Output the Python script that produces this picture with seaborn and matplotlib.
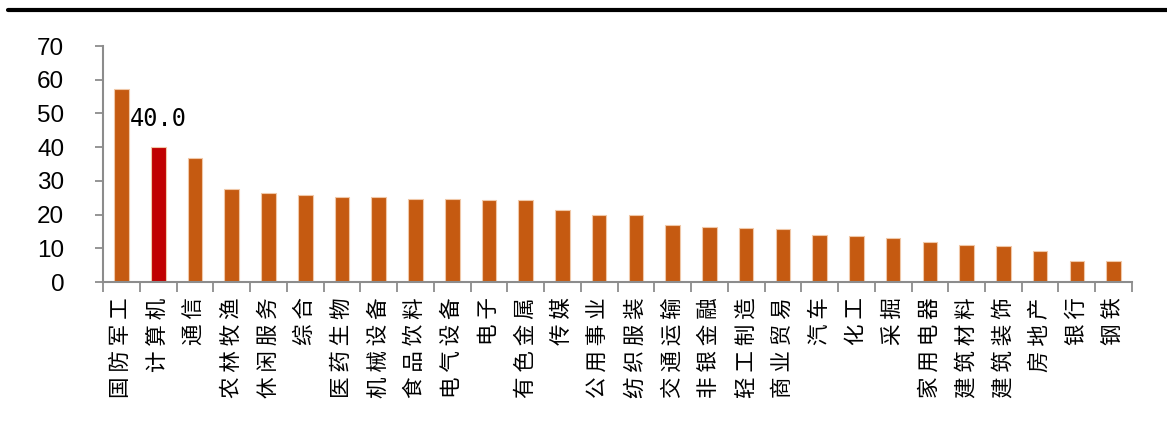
import matplotlib
matplotlib.use("Agg")
import matplotlib.pyplot as plt
import seaborn as sns
from matplotlib.lines import Line2D
from matplotlib.ticker import FixedLocator

categories = ["国防军工", "计算机", "通信", "农林牧渔", "休闲服务", "综合", "医药生物",
              "机械设备", "食品饮料", "电气设备", "电子", "有色金属", "传媒", "公用事业",
              "纺织服装", "交通运输", "非银金融", "轻工制造", "商业贸易", "汽车", "化工",
              "采掘", "家用电器", "建筑材料", "建筑装饰", "房地产", "银行", "钢铁"]
values = [57.3, 40.0, 36.8, 27.5, 26.5, 25.8, 25.2,
          25.2, 24.7, 24.6, 24.3, 24.3, 21.4, 19.9,
          19.8, 16.9, 16.2, 15.9, 15.6, 13.9, 13.7,
          13.1, 11.8, 11.0, 10.6, 9.1, 6.2, 6.2]
highlight = "计算机"
highlight_label = "40.0"
yticks = [0, 10, 20, 30, 40, 50, 60, 70]

sns.set_theme(style="white")
plt.rcParams['font.family'] = ['Noto Sans CJK SC', 'DejaVu Sans']

fig = plt.figure(figsize=(11.67, 4.23), dpi=100)
ax = fig.add_axes([0.0883, 0.3333, 0.8817, 0.5578])

orange = "#C55A11"
red = "#C00000"
palette = [red if c == highlight else orange for c in categories]

sns.barplot(x=categories, y=values, hue=categories, palette=palette, legend=False,
            width=0.4, ax=ax, edgecolor="#F0C8A8", linewidth=0.8, saturation=1)

ax.set_xlim(-0.5, len(categories) - 0.5)
ax.set_ylim(0, 70)
ax.set_yticks(yticks)
ax.set_yticklabels([str(t) for t in yticks], family="Liberation Sans", fontsize=17.5, color="black")
ax.tick_params(axis="y", direction="out", length=6, width=1.3, color="#8C8C8C", pad=22, left=True)

ax.set_xticks(range(len(categories)))
ax.set_xticklabels([" ".join(list(c)) for c in categories], rotation=90, fontsize=15.5, color="black")
ax.tick_params(axis="x", which="major", length=0, pad=11)
ax.xaxis.set_minor_locator(FixedLocator([i - 0.5 for i in range(len(categories) + 1)]))
ax.tick_params(axis="x", which="minor", direction="out", length=7, width=1.3, color="#8C8C8C", bottom=True)

for s in ["top", "right"]:
    ax.spines[s].set_visible(False)
for s in ["left", "bottom"]:
    ax.spines[s].set_visible(True)
    ax.spines[s].set_color("#8C8C8C")
    ax.spines[s].set_linewidth(1.5)
ax.grid(False)
ax.set_xlabel("")
ax.set_ylabel("")

hi = categories.index(highlight)
ax.text(hi, 48.4, highlight_label, ha="center", va="center", fontsize=17,
        family="DejaVu Sans Mono", color="black")

fig.add_artist(Line2D([0.007, 1.0], [0.9775, 0.9775], transform=fig.transFigure,
                      color="black", linewidth=3))

fig.savefig("out.png", dpi=100)
